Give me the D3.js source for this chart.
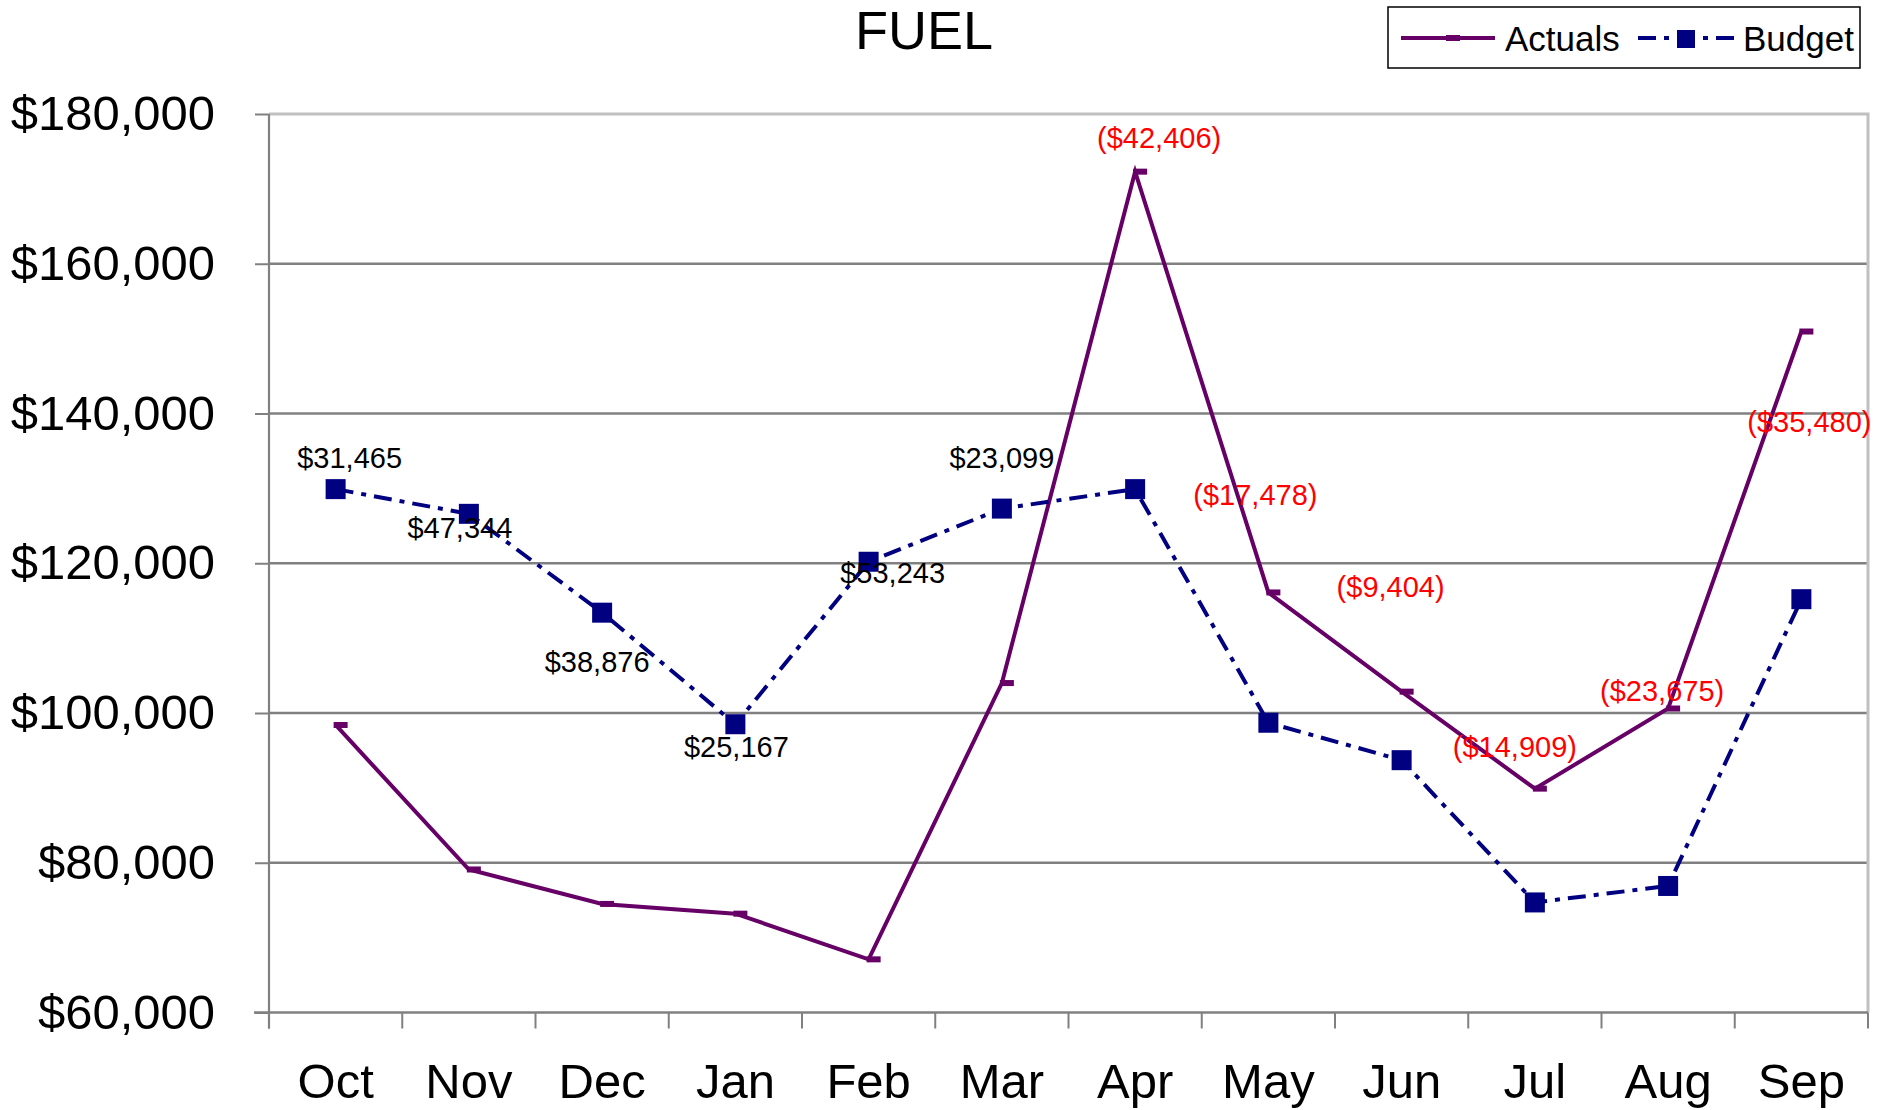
<!DOCTYPE html>
<html>
<head>
<meta charset="utf-8">
<script src="https://cdn.jsdelivr.net/npm/d3@7"></script>
<style>
  html, body { margin: 0; padding: 0; background: #fff; }
  svg { display: block; font-family: "Liberation Sans", Arial, sans-serif; }
</style>
</head>
<body>
<svg id="chart" width="1887" height="1110"></svg>
<script>
// ---- data ----
const months = ["Oct","Nov","Dec","Jan","Feb","Mar","Apr","May","Jun","Jul","Aug","Sep"];
const actuals = [98400, 79100, 74500, 73200, 67100, 104000, 172300, 116100, 102850, 89900, 100600, 150950];
const budget  = [129900, 126600, 113400, 98500, 120200, 127300, 129900, 98700, 93700, 74700, 76900, 115200];
const varianceLabels = ["$31,465","$47,344","$38,876","$25,167","$53,243","$23,099",
                        "($42,406)","($17,478)","($9,404)","($14,909)","($23,675)","($35,480)"];
const yTicks = [60000, 80000, 100000, 120000, 140000, 160000, 180000];
const titleText = "FUEL";
const seriesNames = ["Actuals", "Budget"];

// ---- layout (pixel offsets of the variance labels, not data) ----
const labelOffsets = [[14,-21],[-9,24],[-5,59],[1,33],[24,21],[0,-41],
                      [24,-24],[-13,-87],[-11,-95],[-20,-32],[-6,-8],[8,100]];

const W = 1887, H = 1110;
const plotL = 269, plotR = 1868, plotT = 114, plotB = 1012.5;
const colActual = "#660066", colBudget = "#000080";

const svg = d3.select("#chart");

const x = d3.scaleBand().domain(months).range([plotL, plotR]);
const y = d3.scaleLinear().domain([60000, 180000]).range([plotB, plotT]);
const cx = m => x(m) + x.bandwidth() / 2;

// plot area background
svg.append("rect").attr("x", plotL).attr("y", plotT)
  .attr("width", plotR - plotL).attr("height", plotB - plotT).attr("fill", "#fff");

// gridlines
svg.append("g").selectAll("line")
  .data(yTicks.filter(v => v > 60000 && v < 180000))
  .join("line")
  .attr("x1", plotL).attr("x2", plotR)
  .attr("y1", d => y(d)).attr("y2", d => y(d))
  .attr("stroke", "#808080").attr("stroke-width", 2.6);

// plot border top & right (light grey)
svg.append("path")
  .attr("d", `M${plotL},${y(180000)}H${plotR}V${plotB}`)
  .attr("fill", "none").attr("stroke", "#c0c0c0").attr("stroke-width", 3);

// y axis
const yAxis = svg.append("g").attr("transform", `translate(${plotL},0)`)
  .call(d3.axisLeft(y).tickValues(yTicks).tickFormat(d3.format("$,")).tickSize(14).tickPadding(40));
yAxis.select(".domain").attr("stroke", "#808080").attr("stroke-width", 2.2)
  .attr("d", `M0,${plotT}V${plotB + 16}`);
yAxis.selectAll(".tick line").attr("stroke", "#808080").attr("stroke-width", 2);
yAxis.selectAll(".tick text")
  .attr("font-size", 49).attr("fill", "#000")
  .attr("font-family", "'Liberation Sans', Arial, sans-serif");

// x axis
const xAxis = svg.append("g").attr("transform", `translate(0,${plotB})`)
  .call(d3.axisBottom(x).tickSize(0));
xAxis.select(".domain").attr("stroke", "#808080").attr("stroke-width", 2.6)
  .attr("d", `M${plotL - 15},0H${plotR}`);
xAxis.selectAll(".tick text")
  .attr("y", 85).attr("dy", 0)
  .attr("font-size", 49).attr("fill", "#000")
  .attr("font-family", "'Liberation Sans', Arial, sans-serif");
// category boundary ticks
const bounds = months.map(m => x(m)).concat([plotR]);
xAxis.append("g").selectAll("line").data(bounds).join("line")
  .attr("x1", d => d).attr("x2", d => d).attr("y1", 0).attr("y2", 16)
  .attr("stroke", "#808080").attr("stroke-width", 2);

// lines
const line = d3.line().x(d => cx(d.m)).y(d => y(d.v));
const actualData = months.map((m, i) => ({ m, v: actuals[i] }));
const budgetData = months.map((m, i) => ({ m, v: budget[i] }));

svg.append("path").datum(actualData).attr("d", line)
  .attr("fill", "none").attr("stroke", colActual).attr("stroke-width", 4)
  .attr("stroke-linejoin", "miter");
svg.append("g").selectAll("rect").data(actualData).join("rect")
  .attr("x", d => cx(d.m) - 2).attr("y", d => y(d.v) - 3)
  .attr("width", 14).attr("height", 6).attr("fill", colActual);

svg.append("path").datum(budgetData).attr("d", line)
  .attr("fill", "none").attr("stroke", colBudget).attr("stroke-width", 4)
  .attr("stroke-dasharray", "18,8,5,8");
svg.append("g").selectAll("rect").data(budgetData).join("rect")
  .attr("x", d => cx(d.m) - 10).attr("y", d => y(d.v) - 10)
  .attr("width", 20).attr("height", 20).attr("fill", colBudget);

// variance labels
svg.append("g").selectAll("text").data(months).join("text")
  .attr("x", (m, i) => cx(m) + labelOffsets[i][0])
  .attr("y", (m, i) => {
    const neg = varianceLabels[i].startsWith("(");
    return y(neg ? actuals[i] : budget[i]) + labelOffsets[i][1];
  })
  .attr("text-anchor", "middle")
  .attr("font-size", 29)
  .attr("fill", (m, i) => varianceLabels[i].startsWith("(") ? "#ff0000" : "#000")
  .text((m, i) => varianceLabels[i]);

// title
svg.append("text").attr("x", 924).attr("y", 49).attr("text-anchor", "middle")
  .attr("font-size", 54).attr("fill", "#000").text(titleText);

// legend
const lg = svg.append("g");
lg.append("rect").attr("x", 1388).attr("y", 7).attr("width", 472).attr("height", 61)
  .attr("fill", "#fff").attr("stroke", "#000").attr("stroke-width", 1.5);
lg.append("line").attr("x1", 1401).attr("x2", 1495).attr("y1", 38).attr("y2", 38)
  .attr("stroke", colActual).attr("stroke-width", 4);
lg.append("rect").attr("x", 1446).attr("y", 35).attr("width", 14).attr("height", 6).attr("fill", colActual);
lg.append("text").attr("x", 1505).attr("y", 51).attr("font-size", 35).attr("fill", "#000").text(seriesNames[0]);
lg.append("line").attr("x1", 1638).attr("x2", 1737).attr("y1", 38).attr("y2", 38)
  .attr("stroke", colBudget).attr("stroke-width", 4).attr("stroke-dasharray", "18,8,5,8");
lg.append("rect").attr("x", 1677).attr("y", 30).attr("width", 18).attr("height", 18).attr("fill", colBudget);
lg.append("text").attr("x", 1743).attr("y", 51).attr("font-size", 35).attr("fill", "#000").text(seriesNames[1]);
</script>
</body>
</html>
